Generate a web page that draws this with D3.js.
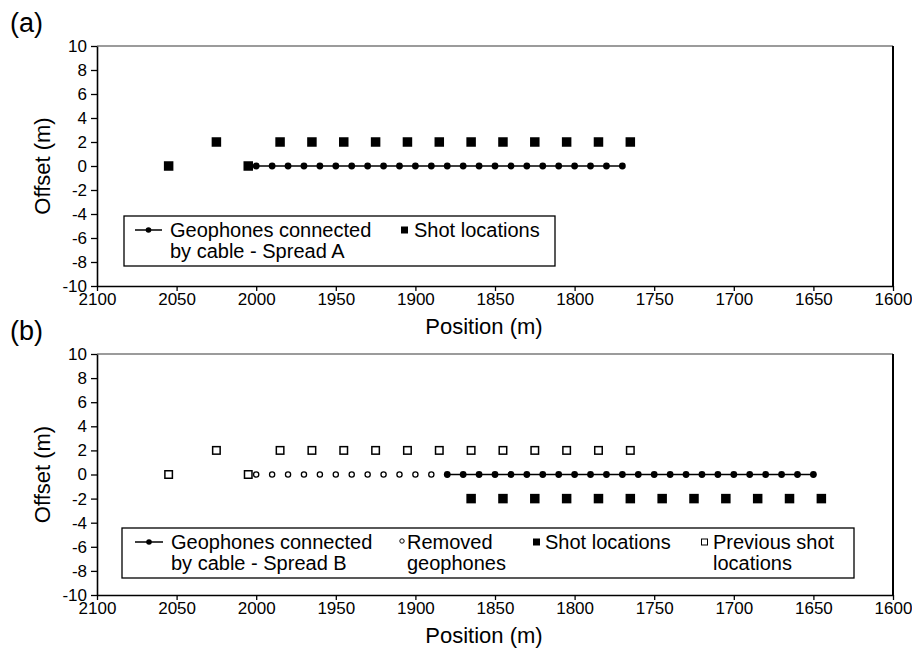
<!DOCTYPE html>
<html>
<head>
<meta charset="utf-8">
<script src="https://cdn.jsdelivr.net/npm/d3@7"></script>
<style>
  body { margin: 0; background: #fff; }
  text { font-family: "Liberation Sans", Arial, sans-serif; fill: #000; }
</style>
</head>
<body>
<div class="canvas"></div>
<script>
// ---- data (positions in m, offsets in m) ----
const spreadA = [2000, 1990, 1980, 1970, 1960, 1950, 1940, 1930, 1920, 1910, 1900, 1890,
                 1880, 1870, 1860, 1850, 1840, 1830, 1820, 1810, 1800, 1790, 1780, 1770];
const shotPosA = [2055, 2025, 2005, 1985, 1965, 1945, 1925, 1905, 1885, 1865, 1845, 1825, 1805, 1785, 1765];
const shotOffA = [0, 2, 0, 2, 2, 2, 2, 2, 2, 2, 2, 2, 2, 2, 2];

const removedB = [2000, 1990, 1980, 1970, 1960, 1950, 1940, 1930, 1920, 1910, 1900, 1890];
const spreadB = [1880, 1870, 1860, 1850, 1840, 1830, 1820, 1810, 1800, 1790, 1780, 1770,
                 1760, 1750, 1740, 1730, 1720, 1710, 1700, 1690, 1680, 1670, 1660, 1650];
const shotPosB = [1865, 1845, 1825, 1805, 1785, 1765, 1745, 1725, 1705, 1685, 1665, 1645];
const shotOffB = [-2, -2, -2, -2, -2, -2, -2, -2, -2, -2, -2, -2];
// previous shots of panel b = shots of spread A
const prevPosB = shotPosA;
const prevOffB = shotOffA;

const xTicks = [2100, 2050, 2000, 1950, 1900, 1850, 1800, 1750, 1700, 1650, 1600];
const yTicks = [10, 8, 6, 4, 2, 0, -2, -4, -6, -8, -10];

const svg = d3.select('.canvas').append('svg')
    .attr('width', 912)
    .attr('height', 650);

const left = 97, right = 893;

const x = d3.scaleLinear().domain([2100, 1600]).range([left, right]);

const drawPanel = (top, bottom, label) => {
    const y = d3.scaleLinear().domain([-10, 10]).range([bottom, top]);
    const g = svg.append('g');

    // frame: top grey, right black
    g.append('line').attr('x1', left).attr('x2', right).attr('y1', top).attr('y2', top)
        .attr('stroke', '#7a7a7a').attr('stroke-width', 1.5);
    g.append('line').attr('x1', right).attr('x2', right).attr('y1', top).attr('y2', bottom)
        .attr('stroke', '#000').attr('stroke-width', 2);

    // plain hyphen for negatives, like the original
    const xAxis = d3.axisBottom(x).tickValues(xTicks).tickSize(5).tickSizeOuter(0)
        .tickFormat(d => String(d));
    const yAxis = d3.axisLeft(y).tickValues(yTicks).tickSize(6).tickSizeOuter(0)
        .tickFormat(d => String(d));

    const xg = g.append('g').attr('transform', `translate(0,${bottom})`).call(xAxis);
    const yg = g.append('g').attr('transform', `translate(${left},0)`).call(yAxis);
    [xg, yg].forEach(a => {
        a.select('.domain').attr('stroke', '#000').attr('stroke-width', 1.6);
        a.selectAll('.tick line').attr('stroke', '#000').attr('stroke-width', 1.3);
        a.selectAll('text').attr('font-size', 17).attr('font-family', '"Liberation Sans", Arial, sans-serif')
            .attr('fill', '#000');
    });
    xg.selectAll('text').attr('y', 7);
    yg.selectAll('text').attr('x', -10);

    // axis titles
    g.append('text').attr('x', 484).attr('y', bottom + 48)
        .attr('text-anchor', 'middle').attr('font-size', 22).text('Position (m)');
    g.append('text')
        .attr('transform', `translate(50,${(top + bottom) / 2}) rotate(-90)`)
        .attr('text-anchor', 'middle').attr('font-size', 22).text('Offset (m)');
    g.append('text').attr('x', 10).attr('y', top - 14).attr('font-size', 27).text(label);

    return { g, y };
};

const lineGen = (y, off) => d3.line().x(d => x(d)).y(() => y(off));

const drawSpread = (g, y, pos) => {
    g.append('path').datum(pos).attr('d', lineGen(y, 0))
        .attr('fill', 'none').attr('stroke', '#000').attr('stroke-width', 1.6);
    g.selectAll(null).data(pos).enter().append('circle')
        .attr('cx', d => x(d)).attr('cy', y(0)).attr('r', 3.4).attr('fill', '#000');
};

const drawSquares = (g, y, pos, off, filled) => {
    const s = filled ? 9.5 : 7.5;
    g.selectAll(null).data(pos).enter().append('rect')
        .attr('x', d => x(d) - s / 2)
        .attr('y', (d, i) => y(off[i]) - s / 2)
        .attr('width', s).attr('height', s)
        .attr('fill', filled ? '#000' : '#fff')
        .attr('stroke', '#000').attr('stroke-width', filled ? 0 : 1.5);
};

// ---------- panel (a) ----------
const A = drawPanel(46, 286, '(a)');
drawSpread(A.g, A.y, spreadA);
drawSquares(A.g, A.y, shotPosA, shotOffA, true);

// legend (a)
const legA = A.g.append('g');
legA.append('rect').attr('x', 124).attr('y', 216).attr('width', 431).attr('height', 50)
    .attr('fill', '#fff').attr('stroke', '#000').attr('stroke-width', 1.3);
legA.append('line').attr('x1', 135).attr('x2', 162).attr('y1', 230).attr('y2', 230)
    .attr('stroke', '#000').attr('stroke-width', 1.5);
legA.append('circle').attr('cx', 148.5).attr('cy', 230).attr('r', 2.8).attr('fill', '#000');
legA.append('text').attr('x', 170).attr('y', 237).attr('font-size', 20).text('Geophones connected');
legA.append('text').attr('x', 170).attr('y', 258).attr('font-size', 20).text('by cable - Spread A');
legA.append('rect').attr('x', 401).attr('y', 226.5).attr('width', 7).attr('height', 7).attr('fill', '#000');
legA.append('text').attr('x', 414).attr('y', 237).attr('font-size', 20).text('Shot locations');

// ---------- panel (b) ----------
const B = drawPanel(354, 595, '(b)');
B.g.selectAll(null).data(removedB).enter().append('circle')
    .attr('cx', d => x(d)).attr('cy', B.y(0)).attr('r', 2.6)
    .attr('fill', '#fff').attr('stroke', '#000').attr('stroke-width', 1.3);
drawSpread(B.g, B.y, spreadB);
drawSquares(B.g, B.y, shotPosB, shotOffB, true);
drawSquares(B.g, B.y, prevPosB, prevOffB, false);

// legend (b)
const legB = B.g.append('g');
legB.append('rect').attr('x', 122).attr('y', 528).attr('width', 732).attr('height', 50)
    .attr('fill', '#fff').attr('stroke', '#000').attr('stroke-width', 1.3);
legB.append('line').attr('x1', 135).attr('x2', 163).attr('y1', 542).attr('y2', 542)
    .attr('stroke', '#000').attr('stroke-width', 1.5);
legB.append('circle').attr('cx', 149).attr('cy', 542).attr('r', 2.8).attr('fill', '#000');
legB.append('text').attr('x', 171).attr('y', 549).attr('font-size', 20).text('Geophones connected');
legB.append('text').attr('x', 171).attr('y', 570).attr('font-size', 20).text('by cable - Spread B');
legB.append('circle').attr('cx', 402).attr('cy', 541).attr('r', 2.2)
    .attr('fill', '#fff').attr('stroke', '#000').attr('stroke-width', 1);
legB.append('text').attr('x', 407).attr('y', 549).attr('font-size', 20).text('Removed');
legB.append('text').attr('x', 407).attr('y', 570).attr('font-size', 20).text('geophones');
legB.append('rect').attr('x', 533).attr('y', 538.5).attr('width', 7).attr('height', 7).attr('fill', '#000');
legB.append('text').attr('x', 545).attr('y', 549).attr('font-size', 20).text('Shot locations');
legB.append('rect').attr('x', 701.5).attr('y', 539).attr('width', 6).attr('height', 6)
    .attr('fill', '#fff').attr('stroke', '#000').attr('stroke-width', 1);
legB.append('text').attr('x', 713).attr('y', 549).attr('font-size', 20).text('Previous shot');
legB.append('text').attr('x', 713).attr('y', 570).attr('font-size', 20).text('locations');
</script>
</body>
</html>
